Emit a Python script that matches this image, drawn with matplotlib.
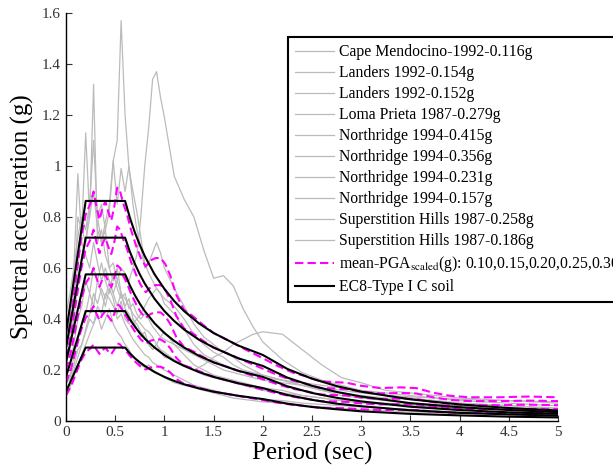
import matplotlib
matplotlib.use('Agg')
import matplotlib.pyplot as plt

plt.rcParams['font.family'] = ['Liberation Serif', 'DejaVu Serif']
plt.rcParams['mathtext.fontset'] = 'stix'

# periods of the recorded spectra (s)
periods_rec = [0, 0.04, 0.08, 0.12, 0.16, 0.2, 0.24, 0.28, 0.32, 0.36, 0.4, 0.44,
               0.48, 0.52, 0.56, 0.6, 0.64, 0.68, 0.72, 0.76, 0.8, 0.84, 0.88, 0.92,
               0.96, 1.0, 1.1, 1.2, 1.3, 1.4, 1.5, 1.6, 1.7, 1.8, 1.9, 2.0, 2.2, 2.4,
               2.6, 2.8, 3.0, 3.25, 3.5, 3.75, 4.0, 4.5, 5.0]

record_names = ['Cape Mendocino-1992-0.116g', 'Landers 1992-0.154g', 'Landers 1992-0.152g',
                'Loma Prieta 1987-0.279g', 'Northridge 1994-0.415g', 'Northridge 1994-0.356g',
                'Northridge 1994-0.231g', 'Northridge 1994-0.157g',
                'Superstition Hills 1987-0.258g', 'Superstition Hills 1987-0.186g']

sa_cape = [0.116, 0.13, 0.18, 0.22, 0.26, 0.30, 0.34, 0.38, 0.42, 0.36, 0.40, 0.44,
           0.38, 0.35, 0.33, 0.30, 0.28, 0.25, 0.24, 0.22, 0.21, 0.22, 0.20, 0.19,
           0.18, 0.17, 0.15, 0.14, 0.13, 0.12, 0.11, 0.10, 0.09, 0.085, 0.08, 0.075, 0.07, 0.06,
           0.055, 0.05, 0.045, 0.04, 0.035, 0.033, 0.03, 0.025, 0.02]
sa_landers1 = [0.154, 0.16, 0.20, 0.25, 0.30, 0.36, 0.42, 0.50, 0.46, 0.52, 0.48, 0.55,
               0.50, 0.45, 0.50, 0.44, 0.42, 0.38, 0.40, 0.42, 0.45, 0.48, 0.50, 0.52,
               0.50, 0.46, 0.42, 0.36, 0.30, 0.26, 0.24, 0.22, 0.20, 0.19, 0.18, 0.17, 0.16, 0.15,
               0.14, 0.13, 0.12, 0.11, 0.10, 0.09, 0.08, 0.07, 0.06]
sa_landers2 = [0.152, 0.17, 0.22, 0.28, 0.30, 0.35, 0.40, 0.38, 0.45, 0.42, 0.50, 0.48,
               0.45, 0.42, 0.47, 0.40, 0.38, 0.40, 0.36, 0.33, 0.35, 0.30, 0.28, 0.30,
               0.27, 0.25, 0.24, 0.22, 0.20, 0.22, 0.25, 0.27, 0.30, 0.32, 0.34, 0.35, 0.34, 0.28,
               0.22, 0.17, 0.15, 0.12, 0.11, 0.10, 0.09, 0.08, 0.07]
sa_loma = [0.279, 0.35, 0.50, 0.60, 0.75, 0.70, 0.80, 1.32, 0.70, 0.75, 0.65, 0.60,
           0.62, 0.55, 0.50, 0.48, 0.45, 0.42, 0.40, 0.38, 0.36, 0.35, 0.33, 0.30,
           0.28, 0.27, 0.24, 0.22, 0.20, 0.18, 0.17, 0.16, 0.15, 0.14, 0.13, 0.12, 0.11, 0.10,
           0.09, 0.08, 0.07, 0.065, 0.06, 0.055, 0.05, 0.045, 0.04]
sa_north1 = [0.415, 0.50, 0.60, 0.72, 0.80, 0.75, 0.85, 0.90, 0.80, 0.85, 0.75, 0.82,
             1.02, 1.10, 1.57, 1.20, 0.99, 0.90, 0.82, 0.72, 0.62, 0.58, 0.55, 0.52,
             0.50, 0.48, 0.45, 0.40, 0.34, 0.30, 0.27, 0.25, 0.22, 0.20, 0.19, 0.18, 0.16, 0.14,
             0.12, 0.10, 0.09, 0.08, 0.07, 0.065, 0.06, 0.05, 0.045]
sa_north2 = [0.356, 0.40, 0.60, 0.97, 0.70, 0.65, 0.60, 0.70, 0.62, 0.55, 0.60, 0.55,
             0.50, 0.55, 0.60, 0.58, 0.55, 0.60, 0.65, 0.80, 1.00, 1.15, 1.34, 1.37,
             1.27, 1.19, 0.96, 0.87, 0.80, 0.67, 0.56, 0.57, 0.53, 0.44, 0.37, 0.31, 0.24, 0.19,
             0.16, 0.14, 0.12, 0.10, 0.09, 0.08, 0.07, 0.06, 0.05]
sa_north3 = [0.231, 0.28, 0.40, 0.55, 0.65, 0.70, 0.85, 1.10, 0.80, 0.70, 0.78, 0.85,
             1.02, 0.85, 0.99, 0.90, 1.00, 0.85, 0.75, 0.68, 0.60, 0.62, 0.66, 0.70,
             0.66, 0.60, 0.52, 0.45, 0.38, 0.33, 0.30, 0.27, 0.25, 0.22, 0.20, 0.18, 0.16, 0.14,
             0.12, 0.11, 0.10, 0.09, 0.085, 0.08, 0.07, 0.06, 0.05]
sa_north4 = [0.157, 0.18, 0.25, 0.32, 0.38, 0.42, 0.50, 0.45, 0.55, 0.50, 0.45, 0.52,
             0.48, 0.40, 0.42, 0.38, 0.35, 0.32, 0.30, 0.28, 0.26, 0.25, 0.23, 0.22,
             0.21, 0.20, 0.18, 0.16, 0.14, 0.13, 0.12, 0.11, 0.10, 0.095, 0.09, 0.085, 0.08, 0.07,
             0.065, 0.06, 0.055, 0.05, 0.045, 0.04, 0.035, 0.03, 0.025]
sa_super1 = [0.258, 0.30, 0.45, 0.80, 0.75, 1.13, 0.80, 0.90, 0.75, 0.70, 0.75, 0.60,
             0.55, 0.60, 0.50, 0.45, 0.48, 0.40, 0.38, 0.35, 0.33, 0.30, 0.28, 0.30,
             0.33, 0.35, 0.30, 0.26, 0.22, 0.20, 0.18, 0.17, 0.16, 0.15, 0.14, 0.13, 0.12, 0.10,
             0.09, 0.08, 0.075, 0.07, 0.065, 0.06, 0.055, 0.05, 0.045]
sa_super2 = [0.186, 0.22, 0.30, 0.40, 0.45, 0.55, 0.50, 0.60, 0.55, 0.62, 0.55, 0.50,
             0.58, 0.52, 0.48, 0.50, 0.44, 0.46, 0.42, 0.40, 0.42, 0.40, 0.37, 0.35,
             0.33, 0.32, 0.30, 0.28, 0.26, 0.24, 0.22, 0.20, 0.19, 0.18, 0.17, 0.16, 0.15, 0.14,
             0.13, 0.12, 0.11, 0.10, 0.095, 0.09, 0.085, 0.08, 0.075]

records = [sa_cape, sa_landers1, sa_landers2, sa_loma, sa_north1, sa_north2,
           sa_north3, sa_north4, sa_super1, sa_super2]

# mean spectra of the records scaled to PGA = 0.10 ... 0.30 g
periods_mean = [0.0, 0.05, 0.10, 0.15, 0.20, 0.25, 0.28, 0.31, 0.34, 0.37, 0.40, 0.43,
                0.46, 0.49, 0.52, 0.55, 0.58, 0.62, 0.66, 0.71, 0.76, 0.81, 0.86, 0.91,
                0.96, 1.01, 1.06, 1.12, 1.20, 1.29, 1.40, 1.50, 1.64, 1.80, 1.97, 2.15,
                2.31, 2.45, 2.58, 2.70, 2.85, 3.00, 3.20, 3.40, 3.56, 3.73, 3.90, 4.10,
                4.40, 4.70, 5.00]
mean_010 = [0.100, 0.135, 0.185, 0.235, 0.270, 0.285, 0.300, 0.280, 0.263, 0.278, 0.287, 0.273,
            0.262, 0.280, 0.305, 0.300, 0.285, 0.270, 0.250, 0.230, 0.213, 0.202, 0.210, 0.213,
            0.213, 0.205, 0.190, 0.165, 0.145, 0.137, 0.125, 0.115, 0.106, 0.095, 0.084, 0.072,
            0.063, 0.058, 0.052, 0.051, 0.050, 0.046, 0.043, 0.044, 0.043, 0.037, 0.033, 0.031,
            0.031, 0.032, 0.031]
mean_015 = [0.150, 0.203, 0.278, 0.353, 0.405, 0.428, 0.450, 0.420, 0.395, 0.417, 0.431, 0.410,
            0.393, 0.420, 0.458, 0.450, 0.428, 0.405, 0.375, 0.345, 0.320, 0.303, 0.315, 0.320,
            0.320, 0.308, 0.285, 0.248, 0.218, 0.206, 0.188, 0.173, 0.159, 0.143, 0.126, 0.108,
            0.095, 0.087, 0.078, 0.077, 0.075, 0.069, 0.065, 0.066, 0.065, 0.056, 0.050, 0.047,
            0.047, 0.048, 0.047]
mean_020 = [0.200, 0.270, 0.370, 0.470, 0.540, 0.570, 0.600, 0.560, 0.526, 0.556, 0.574, 0.546,
            0.524, 0.560, 0.610, 0.600, 0.570, 0.540, 0.500, 0.460, 0.426, 0.404, 0.420, 0.426,
            0.426, 0.410, 0.380, 0.330, 0.290, 0.274, 0.250, 0.230, 0.212, 0.190, 0.168, 0.144,
            0.126, 0.116, 0.104, 0.102, 0.100, 0.092, 0.086, 0.088, 0.086, 0.074, 0.066, 0.062,
            0.062, 0.064, 0.062]
mean_025 = [0.250, 0.338, 0.463, 0.588, 0.675, 0.713, 0.750, 0.700, 0.658, 0.695, 0.718, 0.683,
            0.655, 0.700, 0.763, 0.750, 0.713, 0.675, 0.625, 0.575, 0.533, 0.505, 0.525, 0.533,
            0.533, 0.513, 0.475, 0.413, 0.363, 0.343, 0.313, 0.288, 0.265, 0.238, 0.210, 0.180,
            0.158, 0.145, 0.130, 0.128, 0.125, 0.115, 0.108, 0.110, 0.108, 0.093, 0.083, 0.078,
            0.078, 0.080, 0.078]
mean_030 = [0.300, 0.405, 0.555, 0.705, 0.810, 0.855, 0.900, 0.840, 0.789, 0.834, 0.861, 0.819,
            0.786, 0.840, 0.915, 0.900, 0.855, 0.810, 0.750, 0.690, 0.639, 0.606, 0.630, 0.639,
            0.639, 0.615, 0.570, 0.495, 0.435, 0.411, 0.375, 0.345, 0.318, 0.285, 0.252, 0.216,
            0.189, 0.174, 0.156, 0.153, 0.150, 0.138, 0.129, 0.132, 0.129, 0.111, 0.099, 0.093,
            0.093, 0.096, 0.093]
means = [mean_010, mean_015, mean_020, mean_025, mean_030]

# EC8 Type I, soil C elastic spectra for the same PGA levels
periods_ec8 = [0, 0.2, 0.6, 0.65, 0.7, 0.75, 0.8, 0.9, 1.0, 1.1, 1.2, 1.35, 1.5, 1.75,
               2.0, 2.25, 2.5, 2.75, 3.0, 3.5, 4.0, 4.5, 5.0]
ec8_010 = [0.115, 0.288, 0.288, 0.265, 0.246, 0.230, 0.216, 0.192, 0.173, 0.157, 0.144, 0.128,
           0.115, 0.099, 0.086, 0.068, 0.055, 0.046, 0.038, 0.028, 0.022, 0.017, 0.014]
ec8_015 = [0.173, 0.431, 0.431, 0.398, 0.370, 0.345, 0.323, 0.288, 0.259, 0.235, 0.216, 0.192,
           0.173, 0.148, 0.129, 0.102, 0.083, 0.068, 0.058, 0.042, 0.032, 0.026, 0.021]
ec8_020 = [0.230, 0.575, 0.575, 0.531, 0.493, 0.460, 0.431, 0.383, 0.345, 0.314, 0.288, 0.256,
           0.230, 0.197, 0.173, 0.136, 0.110, 0.091, 0.077, 0.056, 0.043, 0.034, 0.028]
ec8_025 = [0.288, 0.719, 0.719, 0.663, 0.616, 0.575, 0.539, 0.479, 0.431, 0.392, 0.359, 0.319,
           0.288, 0.246, 0.216, 0.170, 0.138, 0.114, 0.096, 0.070, 0.054, 0.043, 0.035]
ec8_030 = [0.345, 0.863, 0.863, 0.796, 0.739, 0.690, 0.647, 0.575, 0.518, 0.470, 0.431, 0.383,
           0.345, 0.296, 0.259, 0.204, 0.166, 0.137, 0.115, 0.085, 0.065, 0.051, 0.041]
ec8_curves = [ec8_010, ec8_015, ec8_020, ec8_025, ec8_030]

mean_label = r'mean-PGA$_{\mathrm{scaled}}$(g): 0.10,0.15,0.20,0.25,0.30'
ec8_label = 'EC8-Type I C soil'

fig = plt.figure(figsize=(6.13, 4.74), dpi=100)
ax = fig.add_axes([0.1077, 0.1118, 0.8026, 0.8608])

for name, sa in zip(record_names, records):
    ax.plot(periods_rec, sa, color='#bbbbbb', lw=0.9, label=name)

for i, m in enumerate(means):
    ax.plot(periods_mean, m, color='#ff00ff', lw=1.5, ls=(0, (4, 2)),
            label=mean_label if i == 0 else None)

for i, e in enumerate(ec8_curves):
    ax.plot(periods_ec8, e, color='black', lw=1.5,
            label=ec8_label if i == 0 else None)

ax.set_xlim(0, 5)
ax.set_ylim(0, 1.6)
ax.set_xticks([0, 0.5, 1, 1.5, 2, 2.5, 3, 3.5, 4, 4.5, 5])
ax.set_xticklabels(['0', '0.5', '1', '1.5', '2', '2.5', '3', '3.5', '4', '4.5', '5'])
ax.set_yticks([0, 0.2, 0.4, 0.6, 0.8, 1, 1.2, 1.4, 1.6])
ax.set_yticklabels(['0', '0.2', '0.4', '0.6', '0.8', '1', '1.2', '1.4', '1.6'])
ax.tick_params(direction='in', length=4, labelsize=11, colors='#333333')
ax.spines['top'].set_visible(False)
ax.spines['right'].set_visible(False)
for s in ('left', 'bottom'):
    ax.spines[s].set_linewidth(1.0)

ax.set_xlabel('Period (sec)', fontsize=18, labelpad=2)
ax.set_ylabel('Spectral acceleration (g)', fontsize=18, labelpad=6)

leg = ax.legend(loc='upper left', bbox_to_anchor=(0.451, 0.941), fontsize=11.3,
                frameon=True, fancybox=False, framealpha=1, edgecolor='black',
                handlelength=2.5, handletextpad=0.3, borderpad=0.45, labelspacing=0.32,
                borderaxespad=0)
leg.get_frame().set_linewidth(1.5)

fig.savefig('out.png', dpi=100)
plt.close(fig)
